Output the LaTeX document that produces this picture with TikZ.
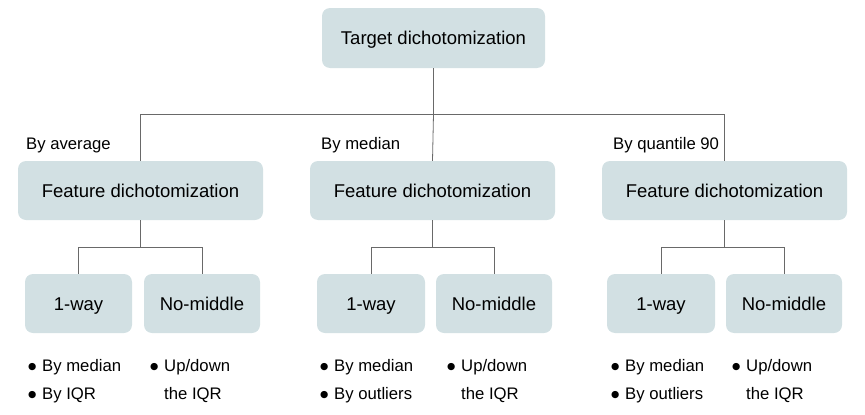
\documentclass[tikz,border=0pt]{standalone}
\usepackage{fontspec}
\setmainfont{Liberation Sans}
\newfontfamily\symfont{DejaVu Sans}
\definecolor{boxfill}{RGB}{210,224,227}
\definecolor{linec}{RGB}{105,105,105}
\tikzset{
  box/.style={rounded corners=8pt, fill=boxfill, draw=none, inner sep=0pt,
    text height=13pt, text depth=0pt,
    font=\fontsize{18.5}{22}\selectfont, text=black},
  conn/.style={draw=linec, line width=0.8pt},
  lbl/.style={anchor=base west, inner sep=0pt, font=\fontsize{16.7}{20}\selectfont},
}
\newcommand{\blt}{\makebox[14pt][l]{\raisebox{1.5pt}{\symfont\fontsize{9.5}{12}\selectfont ●}}}
\begin{document}
\begin{tikzpicture}[x=1pt,y=-1pt]
\useasboundingbox (0,0) rectangle (865,415);
% top
\node[box, minimum width=223pt, minimum height=60pt] (t) at (433.5,38) {Target dichotomization};
% features
\node[box, minimum width=245pt, minimum height=59pt] (f1) at (140.5,190.5) {Feature dichotomization};
\node[box, minimum width=245pt, minimum height=59pt] (f2) at (432.5,190.5) {Feature dichotomization};
\node[box, minimum width=245pt, minimum height=59pt] (f3) at (724.5,190.5) {Feature dichotomization};
% children
\node[box, minimum width=107pt, minimum height=59pt] (a1) at (78.5,303.5) {1-way};
\node[box, minimum width=116pt, minimum height=59pt] (b1) at (202,303.5) {No-middle};
\node[box, minimum width=108pt, minimum height=59pt] (a2) at (371,303.5) {1-way};
\node[box, minimum width=116pt, minimum height=59pt] (b2) at (494,303.5) {No-middle};
\node[box, minimum width=108pt, minimum height=59pt] (a3) at (661,303.5) {1-way};
\node[box, minimum width=116pt, minimum height=59pt] (b3) at (784,303.5) {No-middle};
% connectors
\coordinate (j0) at (433.5,114);
\draw[conn] (t.south) -- (j0);
\draw[conn] (j0) -| (f1.north);
\draw[conn] (j0) -| (f3.north);
\draw[conn] (j0) -- (f2.north);
\coordinate (j1) at (140.5,247);
\coordinate (j2) at (432.5,247);
\coordinate (j3) at (724.5,247);
\draw[conn] (f1.south) -- (j1); \draw[conn] (j1) -| (a1.north); \draw[conn] (j1) -| (b1.north);
\draw[conn] (f2.south) -- (j2); \draw[conn] (j2) -| (a2.north); \draw[conn] (j2) -| (b2.north);
\draw[conn] (f3.south) -- (j3); \draw[conn] (j3) -| (a3.north); \draw[conn] (j3) -| (b3.north);
% branch labels
\node[lbl] (l1) at (26,149) {By average};
\node[lbl] (l2) at (321,149) {By median};
\node[lbl] (l3) at (613,149) {By quantile 90};
% bullet lists
\node[lbl] (p1a) at (28,371) {\blt By median};
\node[lbl] (p1b) at (28,399) {\blt By IQR};
\node[lbl] (q1a) at (150,371) {\blt Up/down};
\node[lbl] (q1b) at (164,399) {the IQR};
\node[lbl] (p2a) at (320,371) {\blt By median};
\node[lbl] (p2b) at (320,399) {\blt By outliers};
\node[lbl] (q2a) at (447,371) {\blt Up/down};
\node[lbl] (q2b) at (461,399) {the IQR};
\node[lbl] (p3a) at (611,371) {\blt By median};
\node[lbl] (p3b) at (611,399) {\blt By outliers};
\node[lbl] (q3a) at (732,371) {\blt Up/down};
\node[lbl] (q3b) at (746,399) {the IQR};
\end{tikzpicture}
\end{document}
